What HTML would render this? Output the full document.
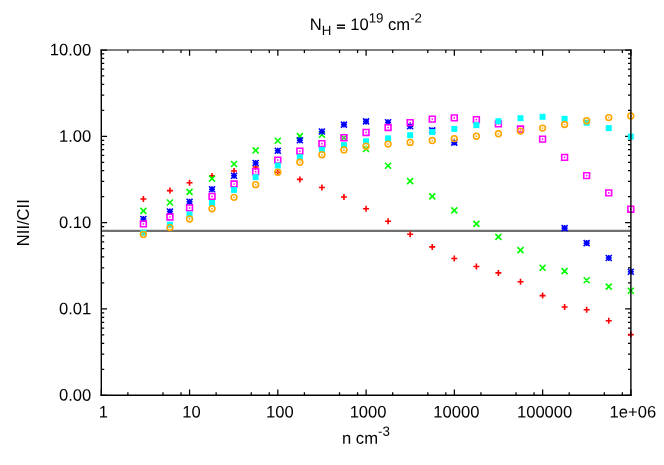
<!DOCTYPE html>
<html><head><meta charset="utf-8"><title>NII/CII</title>
<style>html,body{margin:0;padding:0;background:#fff;}body{width:664px;height:465px;overflow:hidden;font-family:"Liberation Sans",sans-serif;}</style>
</head><body>
<svg width="664" height="465" viewBox="0 0 664 465" style="display:block;will-change:transform;font-family:'Liberation Sans',sans-serif">
<rect width="664" height="465" fill="#fff"/>
<path d="M101.30 395.25v-5.8M101.30 50.00v5.8M127.87 395.25v-2.9M127.87 50.00v2.9M163.00 395.25v-2.9M163.00 50.00v2.9M181.01 395.25v-2.9M181.01 50.00v2.9M189.57 395.25v-5.8M189.57 50.00v5.8M216.14 395.25v-2.9M216.14 50.00v2.9M251.26 395.25v-2.9M251.26 50.00v2.9M269.28 395.25v-2.9M269.28 50.00v2.9M277.83 395.25v-5.8M277.83 50.00v5.8M304.40 395.25v-2.9M304.40 50.00v2.9M339.53 395.25v-2.9M339.53 50.00v2.9M357.55 395.25v-2.9M357.55 50.00v2.9M366.10 395.25v-5.8M366.10 50.00v5.8M392.67 395.25v-2.9M392.67 50.00v2.9M427.80 395.25v-2.9M427.80 50.00v2.9M445.81 395.25v-2.9M445.81 50.00v2.9M454.37 395.25v-5.8M454.37 50.00v5.8M480.94 395.25v-2.9M480.94 50.00v2.9M516.06 395.25v-2.9M516.06 50.00v2.9M534.08 395.25v-2.9M534.08 50.00v2.9M542.63 395.25v-5.8M542.63 50.00v5.8M569.20 395.25v-2.9M569.20 50.00v2.9M604.33 395.25v-2.9M604.33 50.00v2.9M622.35 395.25v-2.9M622.35 50.00v2.9M630.90 395.25v-5.8M630.90 50.00v5.8M101.30 50.00h5.8M630.90 50.00h-5.8M101.30 110.33h2.9M630.90 110.33h-2.9M101.30 95.13h2.9M630.90 95.13h-2.9M101.30 84.35h2.9M630.90 84.35h-2.9M101.30 75.98h2.9M630.90 75.98h-2.9M101.30 69.15h2.9M630.90 69.15h-2.9M101.30 63.37h2.9M630.90 63.37h-2.9M101.30 58.36h2.9M630.90 58.36h-2.9M101.30 53.95h2.9M630.90 53.95h-2.9M101.30 136.31h5.8M630.90 136.31h-5.8M101.30 196.64h2.9M630.90 196.64h-2.9M101.30 181.44h2.9M630.90 181.44h-2.9M101.30 170.66h2.9M630.90 170.66h-2.9M101.30 162.30h2.9M630.90 162.30h-2.9M101.30 155.46h2.9M630.90 155.46h-2.9M101.30 149.68h2.9M630.90 149.68h-2.9M101.30 144.68h2.9M630.90 144.68h-2.9M101.30 140.26h2.9M630.90 140.26h-2.9M101.30 222.62h5.8M630.90 222.62h-5.8M101.30 282.95h2.9M630.90 282.95h-2.9M101.30 267.76h2.9M630.90 267.76h-2.9M101.30 256.97h2.9M630.90 256.97h-2.9M101.30 248.61h2.9M630.90 248.61h-2.9M101.30 241.77h2.9M630.90 241.77h-2.9M101.30 235.99h2.9M630.90 235.99h-2.9M101.30 230.99h2.9M630.90 230.99h-2.9M101.30 226.57h2.9M630.90 226.57h-2.9M101.30 308.94h5.8M630.90 308.94h-5.8M101.30 369.27h2.9M630.90 369.27h-2.9M101.30 354.07h2.9M630.90 354.07h-2.9M101.30 343.28h2.9M630.90 343.28h-2.9M101.30 334.92h2.9M630.90 334.92h-2.9M101.30 328.09h2.9M630.90 328.09h-2.9M101.30 322.31h2.9M630.90 322.31h-2.9M101.30 317.30h2.9M630.90 317.30h-2.9M101.30 312.89h2.9M630.90 312.89h-2.9M101.30 395.25h5.8M630.90 395.25h-5.8" stroke="#000" stroke-width="1.25" fill="none"/>
<line x1="101.3" y1="230.9" x2="630.9" y2="230.9" stroke="#707070" stroke-width="2.2"/>
<path d="M140.40 199.05H146.40M143.40 196.05V202.05M166.95 190.60H172.95M169.95 187.60V193.60M186.55 182.75H192.55M189.55 179.75V185.75M209.05 175.90H215.05M212.05 172.90V178.90M231.05 170.95H237.05M234.05 167.95V173.95M252.65 167.00H258.65M255.65 164.00V170.00M274.80 172.20H280.80M277.80 169.20V175.20M296.85 179.40H302.85M299.85 176.40V182.40M318.90 187.50H324.90M321.90 184.50V190.50M340.95 197.00H346.95M343.95 194.00V200.00M363.05 208.80H369.05M366.05 205.80V211.80M385.10 221.30H391.10M388.10 218.30V224.30M407.15 234.30H413.15M410.15 231.30V237.30M429.25 246.90H435.25M432.25 243.90V249.90M451.30 258.50H457.30M454.30 255.50V261.50M473.40 266.55H479.40M476.40 263.55V269.55M495.40 272.90H501.40M498.40 269.90V275.90M517.50 281.70H523.50M520.50 278.70V284.70M539.60 295.60H545.60M542.60 292.60V298.60M561.60 307.00H567.60M564.60 304.00V310.00M583.65 309.70H589.65M586.65 306.70V312.70M605.75 320.70H611.75M608.75 317.70V323.70M627.80 334.60H633.80M630.80 331.60V337.60" stroke="#ff0000" stroke-width="1.6" fill="none" />
<path d="M140.40 207.90L146.40 213.90M140.40 213.90L146.40 207.90M166.95 199.50L172.95 205.50M166.95 205.50L172.95 199.50M186.55 188.90L192.55 194.90M186.55 194.90L192.55 188.90M209.05 175.60L215.05 181.60M209.05 181.60L215.05 175.60M231.05 161.00L237.05 167.00M231.05 167.00L237.05 161.00M252.65 147.40L258.65 153.40M252.65 153.40L258.65 147.40M274.80 137.80L280.80 143.80M274.80 143.80L280.80 137.80M296.85 133.10L302.85 139.10M296.85 139.10L302.85 133.10M318.90 131.80L324.90 137.80M318.90 137.80L324.90 131.80M340.95 134.70L346.95 140.70M340.95 140.70L346.95 134.70M363.05 146.00L369.05 152.00M363.05 152.00L369.05 146.00M385.10 162.70L391.10 168.70M385.10 168.70L391.10 162.70M407.15 178.10L413.15 184.10M407.15 184.10L413.15 178.10M429.25 193.40L435.25 199.40M429.25 199.40L435.25 193.40M451.30 207.40L457.30 213.40M451.30 213.40L457.30 207.40M473.40 220.90L479.40 226.90M473.40 226.90L479.40 220.90M495.40 233.90L501.40 239.90M495.40 239.90L501.40 233.90M517.50 247.10L523.50 253.10M517.50 253.10L523.50 247.10M539.60 264.80L545.60 270.80M539.60 270.80L545.60 264.80M561.60 268.10L567.60 274.10M561.60 274.10L567.60 268.10M583.65 277.30L589.65 283.30M583.65 283.30L589.65 277.30M605.75 283.60L611.75 289.60M605.75 289.60L611.75 283.60M627.80 287.70L633.80 293.70M627.80 293.70L633.80 287.70" stroke="#00ff00" stroke-width="1.6" fill="none" />
<path d="M140.40 219.00H146.40M143.40 216.00V222.00M140.40 216.00L146.40 222.00M140.40 222.00L146.40 216.00M166.95 211.50H172.95M169.95 208.50V214.50M166.95 208.50L172.95 214.50M166.95 214.50L172.95 208.50M186.55 201.80H192.55M189.55 198.80V204.80M186.55 198.80L192.55 204.80M186.55 204.80L192.55 198.80M209.05 189.30H215.05M212.05 186.30V192.30M209.05 186.30L215.05 192.30M209.05 192.30L215.05 186.30M231.05 175.80H237.05M234.05 172.80V178.80M231.05 172.80L237.05 178.80M231.05 178.80L237.05 172.80M252.65 163.00H258.65M255.65 160.00V166.00M252.65 160.00L258.65 166.00M252.65 166.00L258.65 160.00M274.80 150.70H280.80M277.80 147.70V153.70M274.80 147.70L280.80 153.70M274.80 153.70L280.80 147.70M296.85 140.30H302.85M299.85 137.30V143.30M296.85 137.30L302.85 143.30M296.85 143.30L302.85 137.30M318.90 131.50H324.90M321.90 128.50V134.50M318.90 128.50L324.90 134.50M318.90 134.50L324.90 128.50M340.95 124.60H346.95M343.95 121.60V127.60M340.95 121.60L346.95 127.60M340.95 127.60L346.95 121.60M363.05 121.40H369.05M366.05 118.40V124.40M363.05 118.40L369.05 124.40M363.05 124.40L369.05 118.40M385.10 122.20H391.10M388.10 119.20V125.20M385.10 119.20L391.10 125.20M385.10 125.20L391.10 119.20M407.15 126.30H413.15M410.15 123.30V129.30M407.15 123.30L413.15 129.30M407.15 129.30L413.15 123.30M429.25 130.40H435.25M432.25 127.40V133.40M429.25 127.40L435.25 133.40M429.25 133.40L435.25 127.40M451.30 142.60H457.30M454.30 139.60V145.60M451.30 139.60L457.30 145.60M451.30 145.60L457.30 139.60M561.60 228.10H567.60M564.60 225.10V231.10M561.60 225.10L567.60 231.10M561.60 231.10L567.60 225.10M583.65 243.10H589.65M586.65 240.10V246.10M583.65 240.10L589.65 246.10M583.65 246.10L589.65 240.10M605.75 258.00H611.75M608.75 255.00V261.00M605.75 255.00L611.75 261.00M605.75 261.00L611.75 255.00M627.80 271.70H633.80M630.80 268.70V274.70M627.80 268.70L633.80 274.70M627.80 274.70L633.80 268.70" stroke="#0000ff" stroke-width="1.6" fill="none" />
<path d="M140.50 221.00h5.8v5.8h-5.8zM167.05 214.10h5.8v5.8h-5.8zM186.65 205.00h5.8v5.8h-5.8zM209.15 193.50h5.8v5.8h-5.8zM231.15 181.10h5.8v5.8h-5.8zM252.75 168.80h5.8v5.8h-5.8zM274.90 157.20h5.8v5.8h-5.8zM296.95 148.25h5.8v5.8h-5.8zM319.00 140.80h5.8v5.8h-5.8zM341.05 134.80h5.8v5.8h-5.8zM363.15 129.55h5.8v5.8h-5.8zM385.20 124.60h5.8v5.8h-5.8zM407.25 119.70h5.8v5.8h-5.8zM429.35 116.20h5.8v5.8h-5.8zM451.40 115.00h5.8v5.8h-5.8zM473.50 116.80h5.8v5.8h-5.8zM495.50 121.00h5.8v5.8h-5.8zM517.60 126.10h5.8v5.8h-5.8zM539.70 136.20h5.8v5.8h-5.8zM561.70 154.45h5.8v5.8h-5.8zM583.75 172.70h5.8v5.8h-5.8zM605.85 190.00h5.8v5.8h-5.8zM627.90 206.30h5.8v5.8h-5.8z" stroke="#ff00ff" stroke-width="1.6" fill="none" />
<g fill="#ff00ff"><circle cx="143.40" cy="223.90" r="0.85"/><circle cx="169.95" cy="217.00" r="0.85"/><circle cx="189.55" cy="207.90" r="0.85"/><circle cx="212.05" cy="196.40" r="0.85"/><circle cx="234.05" cy="184.00" r="0.85"/><circle cx="255.65" cy="171.70" r="0.85"/><circle cx="277.80" cy="160.10" r="0.85"/><circle cx="299.85" cy="151.15" r="0.85"/><circle cx="321.90" cy="143.70" r="0.85"/><circle cx="343.95" cy="137.70" r="0.85"/><circle cx="366.05" cy="132.45" r="0.85"/><circle cx="388.10" cy="127.50" r="0.85"/><circle cx="410.15" cy="122.60" r="0.85"/><circle cx="432.25" cy="119.10" r="0.85"/><circle cx="454.30" cy="117.90" r="0.85"/><circle cx="476.40" cy="119.70" r="0.85"/><circle cx="498.40" cy="123.90" r="0.85"/><circle cx="520.50" cy="129.00" r="0.85"/><circle cx="542.60" cy="139.10" r="0.85"/><circle cx="564.60" cy="157.35" r="0.85"/><circle cx="586.65" cy="175.60" r="0.85"/><circle cx="608.75" cy="192.90" r="0.85"/><circle cx="630.80" cy="209.20" r="0.85"/></g>
<g fill="#00ffff"><rect x="140.40" y="229.70" width="6.0" height="6.0"/><rect x="166.95" y="221.70" width="6.0" height="6.0"/><rect x="186.55" y="211.50" width="6.0" height="6.0"/><rect x="209.05" y="200.00" width="6.0" height="6.0"/><rect x="231.05" y="186.90" width="6.0" height="6.0"/><rect x="252.65" y="174.10" width="6.0" height="6.0"/><rect x="274.80" y="162.55" width="6.0" height="6.0"/><rect x="296.85" y="154.15" width="6.0" height="6.0"/><rect x="318.90" y="146.80" width="6.0" height="6.0"/><rect x="340.95" y="142.20" width="6.0" height="6.0"/><rect x="363.05" y="138.30" width="6.0" height="6.0"/><rect x="385.10" y="135.40" width="6.0" height="6.0"/><rect x="407.15" y="132.20" width="6.0" height="6.0"/><rect x="429.25" y="129.05" width="6.0" height="6.0"/><rect x="451.30" y="125.90" width="6.0" height="6.0"/><rect x="473.40" y="122.10" width="6.0" height="6.0"/><rect x="495.40" y="118.20" width="6.0" height="6.0"/><rect x="517.50" y="115.20" width="6.0" height="6.0"/><rect x="539.60" y="113.80" width="6.0" height="6.0"/><rect x="561.60" y="115.80" width="6.0" height="6.0"/><rect x="583.65" y="119.70" width="6.0" height="6.0"/><rect x="605.75" y="125.10" width="6.0" height="6.0"/><rect x="627.80" y="133.60" width="6.0" height="6.0"/></g>
<g fill="none" stroke="#ffa500" stroke-width="1.6"><circle cx="143.40" cy="234.55" r="2.9"/><circle cx="169.95" cy="227.60" r="2.9"/><circle cx="189.55" cy="218.95" r="2.9"/><circle cx="212.05" cy="208.70" r="2.9"/><circle cx="234.05" cy="197.35" r="2.9"/><circle cx="255.65" cy="184.65" r="2.9"/><circle cx="277.80" cy="172.20" r="2.9"/><circle cx="299.85" cy="162.30" r="2.9"/><circle cx="321.90" cy="154.70" r="2.9"/><circle cx="343.95" cy="149.90" r="2.9"/><circle cx="366.05" cy="146.20" r="2.9"/><circle cx="388.10" cy="144.10" r="2.9"/><circle cx="410.15" cy="142.40" r="2.9"/><circle cx="432.25" cy="140.55" r="2.9"/><circle cx="454.30" cy="138.60" r="2.9"/><circle cx="476.40" cy="136.20" r="2.9"/><circle cx="498.40" cy="133.80" r="2.9"/><circle cx="520.50" cy="131.10" r="2.9"/><circle cx="542.60" cy="128.10" r="2.9"/><circle cx="564.60" cy="124.50" r="2.9"/><circle cx="586.65" cy="120.70" r="2.9"/><circle cx="608.75" cy="117.60" r="2.9"/><circle cx="630.80" cy="115.90" r="2.9"/></g>
<g fill="#ffa500"><circle cx="143.40" cy="234.55" r="0.85"/><circle cx="169.95" cy="227.60" r="0.85"/><circle cx="189.55" cy="218.95" r="0.85"/><circle cx="212.05" cy="208.70" r="0.85"/><circle cx="234.05" cy="197.35" r="0.85"/><circle cx="255.65" cy="184.65" r="0.85"/><circle cx="277.80" cy="172.20" r="0.85"/><circle cx="299.85" cy="162.30" r="0.85"/><circle cx="321.90" cy="154.70" r="0.85"/><circle cx="343.95" cy="149.90" r="0.85"/><circle cx="366.05" cy="146.20" r="0.85"/><circle cx="388.10" cy="144.10" r="0.85"/><circle cx="410.15" cy="142.40" r="0.85"/><circle cx="432.25" cy="140.55" r="0.85"/><circle cx="454.30" cy="138.60" r="0.85"/><circle cx="476.40" cy="136.20" r="0.85"/><circle cx="498.40" cy="133.80" r="0.85"/><circle cx="520.50" cy="131.10" r="0.85"/><circle cx="542.60" cy="128.10" r="0.85"/><circle cx="564.60" cy="124.50" r="0.85"/><circle cx="586.65" cy="120.70" r="0.85"/><circle cx="608.75" cy="117.60" r="0.85"/><circle cx="630.80" cy="115.90" r="0.85"/></g>
<path d="M101.3 49.4V395.97M630.9 49.4V395.97" stroke="#000" stroke-width="1.4" fill="none"/>
<path d="M100.6 50.0H631.6" stroke="#000" stroke-width="1.2" fill="none"/>
<path d="M100.6 395.25H631.6" stroke="#000" stroke-width="1.45" fill="none"/>
<g font-size="16.6px" fill="#000">
<text x="91.3" y="55.40" text-anchor="end" transform="rotate(0.03 91.3 55.40)">10.00</text>
<text x="91.3" y="141.71" text-anchor="end" transform="rotate(0.03 91.3 141.71)">1.00</text>
<text x="91.3" y="228.03" text-anchor="end" transform="rotate(0.03 91.3 228.03)">0.10</text>
<text x="91.3" y="314.34" text-anchor="end" transform="rotate(0.03 91.3 314.34)">0.01</text>
<text x="91.3" y="400.65" text-anchor="end" transform="rotate(0.03 91.3 400.65)">0.00</text>
<text x="103.30" y="417.6" text-anchor="middle" transform="rotate(0.03 103.30 417.6)">1</text>
<text x="191.57" y="417.6" text-anchor="middle" transform="rotate(0.03 191.57 417.6)">10</text>
<text x="279.83" y="417.6" text-anchor="middle" transform="rotate(0.03 279.83 417.6)">100</text>
<text x="368.10" y="417.6" text-anchor="middle" transform="rotate(0.03 368.10 417.6)">1000</text>
<text x="456.37" y="417.6" text-anchor="middle" transform="rotate(0.03 456.37 417.6)">10000</text>
<text x="544.63" y="417.6" text-anchor="middle" transform="rotate(0.03 544.63 417.6)">100000</text>
<text x="632.90" y="417.6" text-anchor="middle" transform="rotate(0.03 632.90 417.6)">1e+06</text>
<text x="309.7" y="30.0" transform="rotate(0.03 366 30)">N<tspan font-size="13.3px" dy="5.1">H</tspan></text>
<path d="M336.9 25.28H345.0M336.9 28.03H345.0" stroke="#000" stroke-width="1.35" fill="none"/>
<text x="350.2" y="30.0" transform="rotate(0.03 366 30)">10<tspan font-size="13.3px" dy="-7.5">19</tspan><tspan dy="7.5"> cm</tspan><tspan font-size="13.3px" dy="-7.5">-2</tspan></text>
<text x="342.0" y="443.7" transform="rotate(0.03 366 443.7)">n cm<tspan font-size="13.3px" dy="-8.0">-3</tspan></text>
<text transform="translate(29.0 246.2) rotate(-90)">NII/CII</text>
</g></svg>
</body></html>
